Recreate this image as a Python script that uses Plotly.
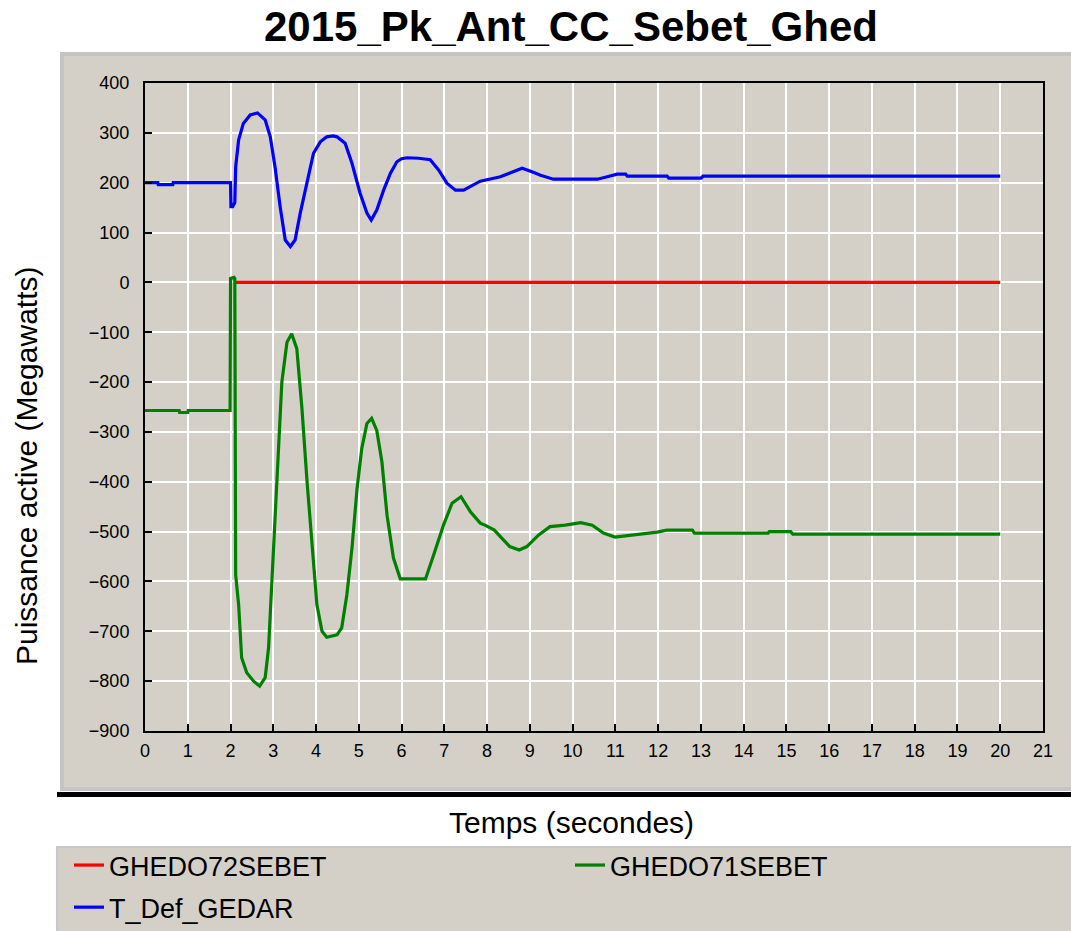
import plotly.graph_objects as go

# ---------------- data ----------------
title_text = "2015_Pk_Ant_CC_Sebet_Ghed"
x_title = "Temps (secondes)"
y_title = "Puissance active (Megawatts)"

red_name = "GHEDO72SEBET"
green_name = "GHEDO71SEBET"
blue_name = "T_Def_GEDAR"

red_t = [2.12, 20.0]
red_v = [0, 0]

green_t = [0, 0.8, 0.81, 1.0, 1.01, 1.99, 2.0, 2.08, 2.1, 2.12, 2.19, 2.26, 2.38, 2.54,
           2.68, 2.81, 2.89, 2.97, 3.04, 3.12, 3.20, 3.32, 3.43, 3.55, 3.67, 3.79, 3.90,
           4.02, 4.14, 4.25, 4.49, 4.60, 4.72, 4.84, 4.96, 5.07, 5.19, 5.30, 5.42, 5.54,
           5.66, 5.81, 5.97, 6.56, 6.75, 6.98, 7.18, 7.39, 7.61, 7.84, 7.95, 8.17, 8.31,
           8.53, 8.75, 8.93, 9.2, 9.47, 9.83, 10.19, 10.46, 10.72, 10.99, 11.44, 11.98,
           12.2, 12.8, 12.85, 14.57, 14.6, 15.1, 15.15, 20.0]
green_v = [-257, -257, -261, -261, -257, -257, 8, 10, 8, -587, -647, -753, -783, -800,
           -810, -793, -733, -600, -467, -333, -200, -120, -103, -133, -253, -400, -520,
           -647, -700, -712, -707, -693, -627, -533, -413, -333, -283, -273, -297, -360,
           -467, -553, -595, -595, -547, -487, -443, -430, -460, -483, -487, -497, -510,
           -530, -537, -530, -507, -490, -487, -482, -487, -503, -511, -507, -501,
           -497, -497, -503, -503, -500, -500, -505, -505]

blue_t = [0, 0.3, 0.31, 0.65, 0.66, 2.0, 2.01, 2.05, 2.08, 2.1, 2.12, 2.19, 2.30, 2.46,
          2.63, 2.81, 2.93, 3.04, 3.16, 3.28, 3.40, 3.51, 3.63, 3.79, 3.94, 4.10, 4.25,
          4.40, 4.49, 4.68, 4.84, 5.03, 5.19, 5.29, 5.42, 5.58, 5.74, 5.89, 6.0, 6.13,
          6.40, 6.67, 6.87, 7.06, 7.26, 7.45, 7.65, 7.84, 8.05, 8.31, 8.55, 8.82, 9.05,
          9.25, 9.55, 10.58, 10.81, 11.04, 11.24, 11.28, 12.21, 12.25, 13.0, 13.05, 20.0]
blue_v = [200, 200, 196, 196, 200, 200, 152, 152, 157, 160, 232, 286, 319, 336,
          340, 326, 292, 232, 152, 85, 72, 85, 139, 205, 259, 282, 292,
          294, 292, 279, 239, 179, 139, 125, 145, 185, 219, 242, 248, 250,
          249, 246, 225, 199, 185, 185, 195, 203, 207, 212, 220, 229, 222,
          215, 207, 207, 212, 217, 217, 213, 213, 209, 209, 213, 213]

x_ticks = list(range(0, 22))
y_ticks = list(range(-900, 401, 100))

# ---------------- layout geometry (pixels) ----------------
W, H = 1071, 931
L, R, T, B = 145, 1071 - 1043, 83, 931 - 731
PW, PH = W - L - R, H - T - B
PANEL = "#D4D0C8"
FONT = "Liberation Sans"


def px(x):
    return (x - L) / PW


def py(y):
    return (H - B - y) / PH


fig = go.Figure()
line_w = 3.2
fig.add_trace(go.Scatter(x=red_t, y=red_v, mode="lines", name=red_name,
                         legend="legend", legendgroup="a",
                         line=dict(color="#FF0000", width=line_w)))
fig.add_trace(go.Scatter(x=green_t, y=green_v, mode="lines", name=green_name,
                         legend="legend2",
                         line=dict(color="#008000", width=line_w)))
fig.add_trace(go.Scatter(x=blue_t, y=blue_v, mode="lines", name=blue_name,
                         legend="legend", legendgroup="b",
                         line=dict(color="#0000FF", width=line_w)))

shapes = [
    # main grey panel
    dict(type="rect", xref="paper", yref="paper", layer="below",
         x0=px(62), x1=px(1080), y0=py(789), y1=py(54),
         fillcolor=PANEL, line=dict(color="#C4C4C4", width=4)),
    # black separator band
    dict(type="rect", xref="paper", yref="paper", layer="below",
         x0=px(57), x1=px(1080), y0=py(797), y1=py(792),
         fillcolor="#000000", line=dict(width=0)),
    # legend panel
    dict(type="rect", xref="paper", yref="paper", layer="below",
         x0=px(57), x1=px(1080), y0=py(940), y1=py(847),
         fillcolor=PANEL, line=dict(color="#C8C8C8", width=2)),
]

annotations = [
    dict(text=x_title, xref="paper", yref="paper", x=px(571), y=py(822),
         showarrow=False, xanchor="center", yanchor="middle",
         font=dict(family=FONT, size=30, color="#000000")),
    dict(text=y_title, xref="paper", yref="paper", x=px(26), y=py(466),
         showarrow=False, xanchor="center", yanchor="middle", textangle=-90,
         font=dict(family=FONT, size=30, color="#000000")),
]

axis_common = dict(
    showgrid=True, gridcolor="#FFFFFF", gridwidth=2,
    showline=True, linecolor="#000000", linewidth=2, mirror=True,
    ticks="inside", ticklen=7, tickwidth=1.5, tickcolor="#000000",
    tickfont=dict(family=FONT, size=18, color="#000000"),
    zeroline=False, fixedrange=True,
)

legend_font = dict(family=FONT, size=27, color="#000000")

fig.update_layout(
    width=W, height=H,
    margin=dict(l=L, r=R, t=T, b=B, autoexpand=False),
    paper_bgcolor="#FFFFFF", plot_bgcolor=PANEL,
    title=dict(text="<b>" + title_text + "</b>", x=571 / W, xanchor="center",
               y=1 - 26 / H, yanchor="middle", yref="container",
               font=dict(family=FONT, size=42, color="#000000")),
    xaxis=dict(range=[0, 21], tickvals=x_ticks, ticklabelstandoff=2, **axis_common),
    yaxis=dict(range=[-900, 400], tickvals=y_ticks, ticklabelstandoff=10, **axis_common),
    showlegend=True,
    legend=dict(orientation="v", x=px(69), y=py(841), xanchor="left", yanchor="top",
                itemwidth=30, tracegroupgap=4,
                bgcolor="rgba(0,0,0,0)", traceorder="grouped",
                font=legend_font),
    legend2=dict(orientation="v", x=px(570), y=py(841), xanchor="left", yanchor="top",
                 itemwidth=30, bgcolor="rgba(0,0,0,0)", font=legend_font),
    shapes=shapes,
    annotations=annotations,
)

fig.write_html("out.html", config={"displayModeBar": False},
               post_script="document.body.style.margin='0';document.body.style.padding='0';")
